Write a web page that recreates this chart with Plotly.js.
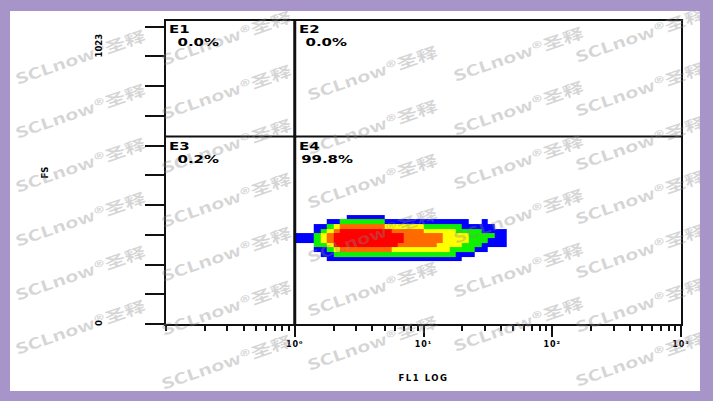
<!DOCTYPE html>
<html>
<head>
<meta charset="utf-8">
<script src="https://cdn.plot.ly/plotly-3.0.1.min.js"></script>
<style>
html,body{margin:0;padding:0;background:#a794c8;}
#wrap{position:relative;width:713px;height:401px;overflow:hidden;}
#plot{position:absolute;left:0;top:0;width:713px;height:401px;}
#frame{position:absolute;left:0;top:0;width:713px;height:401px;box-sizing:border-box;border-style:solid;border-color:#a794c8;border-width:11px 13px 10px 10px;pointer-events:none;}
</style>
</head>
<body>
<div id="wrap"><div id="plot"></div><div id="frame"></div></div>
<script>
// ---------------- data ----------------
const quadrantNames = ['E1', 'E2', 'E3', 'E4'];
const quadrantPercents = ['0.0%', '0.0%', '0.2%', '99.8%'];
const gateFL1 = 1;      // vertical quadrant gate (FL1 LOG)
const gateFS = 645;     // horizontal quadrant gate (FS channel)
const fsChannelMax = 1023;
const xTickVals = [1, 10, 100, 1000];
const xTickText = ['10\u2070', '10\u00b9', '10\u00b2', '10\u00b3'];
const yTickVals = [0, 102.3, 204.6, 306.9, 409.2, 511.5, 613.8, 716.1, 818.4, 920.7, 1023];
const yLabelVals = [0, 1023];
// density-plot bins: FL1 edges in log10 units, FS edges in channels
const fl1BinEdgesLog = [0, 0.05, 0.1, 0.15, 0.2, 0.25, 0.3, 0.35, 0.4, 0.45, 0.5, 0.55, 0.6, 0.65, 0.7, 0.75, 0.8, 0.85,
  0.9, 0.95, 1, 1.05, 1.1, 1.15, 1.2, 1.25, 1.3, 1.35, 1.4, 1.45, 1.5, 1.55, 1.6, 1.65, 1.7];
const fsBinEdges = [200, 216, 232, 248, 264, 280, 296, 312, 328, 344, 360, 376, 392];
// density level per cell (0 = no events, 1 blue ... 5 red), rows from low FS to high FS
const densityLevels = [
  [0,0,0,0,0,0,0,0,0,0,0,0,0,0,0,0,0,0,0,0,0,0,0,0,0,0,0,0,0,0,0,0,0,0],
  [0,0,0,0,0,1,1,1,1,1,1,1,1,1,1,1,1,1,1,1,1,1,1,1,1,1,0,0,0,0,0,0,0,0],
  [0,0,0,0,1,1,2,2,2,2,2,2,2,2,2,2,2,2,2,2,2,2,2,2,2,1,1,1,0,0,0,0,0,0],
  [0,0,0,1,1,2,3,4,4,4,4,4,4,4,4,3,3,3,3,3,3,3,3,3,2,2,2,2,1,1,0,0,0,0],
  [0,0,0,2,2,3,5,5,5,5,5,5,5,5,5,5,4,4,4,4,4,4,3,3,3,3,2,2,2,1,1,1,1,0],
  [1,1,1,2,3,4,5,5,5,5,5,5,5,5,5,5,5,4,4,4,4,4,4,3,3,3,3,2,2,2,1,1,1,0],
  [1,1,1,2,3,4,5,5,5,5,5,5,5,5,5,5,5,4,4,4,4,4,4,3,3,3,3,2,2,2,2,1,1,0],
  [0,0,0,1,2,3,4,5,5,5,5,5,5,5,5,4,4,4,4,4,3,3,3,3,3,2,2,2,2,1,1,1,1,0],
  [0,0,0,1,1,2,3,4,4,4,4,4,4,4,3,3,3,3,3,3,2,2,2,2,2,2,1,1,1,1,1,0,0,0],
  [0,0,0,0,0,1,1,2,2,2,2,2,2,2,1,1,1,1,1,1,1,1,1,1,1,1,1,0,0,1,0,0,0,0],
  [0,0,0,0,0,0,0,0,1,1,1,1,1,1,0,0,0,0,0,0,0,0,0,0,0,0,0,0,0,0,0,0,0,0],
  [0,0,0,0,0,0,0,0,0,0,0,0,0,0,0,0,0,0,0,0,0,0,0,0,0,0,0,0,0,0,0,0,0,0]
];
const watermarkText = 'SCLnow®圣释';

// ---------------- styling ----------------
const LBL = 'DejaVu Sans, Verdana, sans-serif';
const ink = '#111111';
const fsRangeTop = 1042;

const densityScale = [
  [0, '#0000ff'], [0.125, '#0000ff'],
  [0.125, '#11f000'], [0.375, '#11f000'],
  [0.375, '#ffff00'], [0.625, '#ffff00'],
  [0.625, '#ff6a00'], [0.875, '#ff6a00'],
  [0.875, '#ff0000'], [1, '#ff0000']
];

const data = [
  {
    type: 'heatmap',
    x: fl1BinEdgesLog.map(v => Math.pow(10, v)),
    y: fsBinEdges,
    z: densityLevels.map(r => r.map(v => (v === 0 ? null : v))),
    zmin: 1, zmax: 5,
    colorscale: densityScale,
    showscale: false,
    hoverinfo: 'skip'
  },
  {
    type: 'scatter', mode: 'lines',
    x: [gateFL1, gateFL1], y: [0, fsRangeTop],
    line: {color: ink, width: 3}, hoverinfo: 'skip', cliponaxis: false
  },
  {
    type: 'scatter', mode: 'lines',
    x: [0.1, 1000], y: [gateFS, gateFS],
    line: {color: ink, width: 2}, hoverinfo: 'skip', cliponaxis: false
  }
];

const annotations = [];
// watermark tiles (kept fully inside the page)
const wmCols = [80, 226, 372, 518, 640];
wmCols.forEach((px, k) => {
  for (let j = -2; j < 9; j++) {
    const py = 56 + 54 * j - 19 * k;
    if (py < 34 || py > 366) continue;
    annotations.push({
      xref: 'paper', yref: 'paper', x: 0, y: 0,
      xshift: px - 166, yshift: 324 - py,
      text: watermarkText, showarrow: false, textangle: -19,
      xanchor: 'center', yanchor: 'middle',
      font: {family: 'Noto Sans CJK SC, sans-serif', size: 15, weight: 'bold', color: 'rgba(135,135,135,0.34)'}
    });
  }
});
// quadrant labels
const quadLeftLog = [-1, Math.log10(gateFL1), -1, Math.log10(gateFL1)];
const quadTop = [{yref: 'paper', y: 1, dy: 0}, {yref: 'paper', y: 1, dy: 0}, {yref: 'y', y: gateFS, dy: -2}, {yref: 'y', y: gateFS, dy: -2}];
quadrantNames.forEach((nm, i) => {
  const isRight = i % 2 === 1;
  annotations.push({
    xref: 'x', x: quadLeftLog[i], yref: quadTop[i].yref, y: quadTop[i].y,
    xanchor: 'left', yanchor: 'top', align: 'left',
    xshift: isRight ? 2 : 1, yshift: quadTop[i].dy,
    text: nm, showarrow: false,
    font: {family: LBL, size: 11, weight: 'bold', color: '#000'}
  });
  annotations.push({
    xref: 'x', x: quadLeftLog[i], yref: quadTop[i].yref, y: quadTop[i].y,
    xanchor: 'center', yanchor: 'top',
    xshift: 32, yshift: quadTop[i].dy - 13,
    text: quadrantPercents[i], showarrow: false,
    font: {family: LBL, size: 11, weight: 'bold', color: '#000'}
  });
});
// FS axis end labels
yLabelVals.forEach(v => {
  annotations.push({
    xref: 'paper', x: 0, yref: 'y', y: v,
    xanchor: 'center', yanchor: 'middle',
    xshift: -67, yshift: v === fsChannelMax ? -19 : 1,
    text: String(v), textangle: -90, showarrow: false,
    font: {family: LBL, size: 8.5, weight: 'bold', color: '#000'}
  });
});

const layout = {
  width: 713, height: 401,
  margin: {l: 166, r: 32, t: 21, b: 77},
  paper_bgcolor: '#ffffff', plot_bgcolor: '#ffffff',
  showlegend: false,
  font: {family: LBL, color: '#000'},
  xaxis: {
    type: 'log', range: [-1, 3], autorange: false,
    tickmode: 'array', tickvals: xTickVals, ticktext: xTickText,
    ticks: 'outside', ticklen: 11, tickwidth: 2, tickcolor: ink,
    minor: {ticks: 'outside', ticklen: 5, tickwidth: 2, tickcolor: ink, dtick: 'D1', showgrid: false},
    showgrid: false, zeroline: false, showline: true, mirror: true,
    linecolor: ink, linewidth: 2,
    tickfont: {family: LBL, size: 8, weight: 'bold', color: '#000'},
    title: {text: 'FL1 LOG', font: {family: LBL, size: 8.5, weight: 'bold', color: '#000'}, standoff: 27}
  },
  yaxis: {
    range: [0, fsRangeTop], autorange: false,
    tickmode: 'array', tickvals: yTickVals, showticklabels: false,
    ticks: 'outside', ticklen: 19, tickwidth: 2, tickcolor: ink,
    showgrid: false, zeroline: false, showline: true, mirror: true,
    linecolor: ink, linewidth: 2,
    title: {text: 'FS', font: {family: LBL, size: 8.5, weight: 'bold', color: '#000'}, standoff: 95}
  },
  annotations: annotations
};

Plotly.newPlot('plot', data, layout, {staticPlot: true, displayModeBar: false}).then(gd => {
  gd.querySelectorAll('.annotation-text').forEach(el => {
    const t = el.textContent;
    let sx = 0, origin = 'center';
    if (t.indexOf('SCLnow') >= 0) sx = 1.4;
    else if (/^E\d$/.test(t)) { sx = 1.36; origin = 'left center'; }
    else if (t.indexOf('%') >= 0) sx = 1.36;
    if (sx) {
      el.style.transformBox = 'fill-box';
      el.style.transformOrigin = origin;
      el.style.transform = 'scaleX(' + sx + ')';
    }
  });
  gd.querySelectorAll('.xtitle').forEach(el => { el.style.letterSpacing = '1.5px'; });
  gd.querySelectorAll('.xtick text').forEach(el => { el.style.letterSpacing = '1px'; });
});
</script>
</body>
</html>
